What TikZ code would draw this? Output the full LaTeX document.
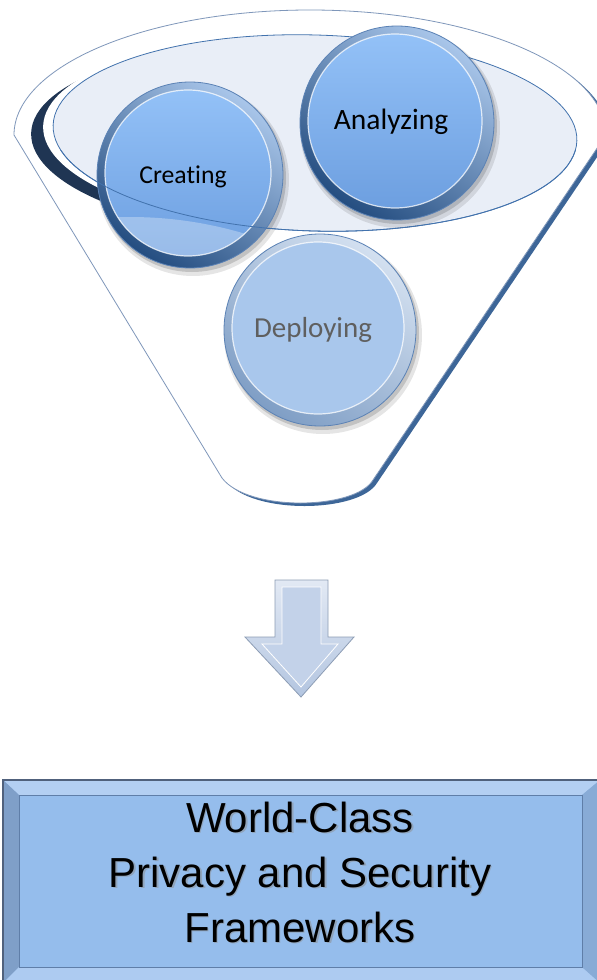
\documentclass[tikz,border=0pt]{standalone}
\usepackage{fontspec}
\setmainfont{Liberation Sans}
\newfontfamily\carlito[Ligatures=NoCommon]{Carlito}
\definecolor{funedge}{HTML}{7F97BA}
\definecolor{funshadow}{HTML}{3D6698}
\definecolor{rimdark}{HTML}{1F3553}
\definecolor{openfill}{HTML}{E9EEF7}
\definecolor{openline}{HTML}{4272AD}
\definecolor{ringtop}{HTML}{A9C6EA}
\definecolor{ringbot}{HTML}{244D80}
\definecolor{ringedge}{HTML}{5B82B5}
\definecolor{disctop}{HTML}{93C1F7}
\definecolor{discbot}{HTML}{6D9FE0}
\definecolor{paleringtop}{HTML}{D3E0F0}
\definecolor{paleringbot}{HTML}{7F9EC5}
\definecolor{paledisc}{HTML}{A9C7EC}
\definecolor{paletext}{HTML}{5F5F5F}
\definecolor{arrowtop}{HTML}{E2E9F4}
\definecolor{arrowbot}{HTML}{B3C5E0}
\definecolor{arrowface}{HTML}{C3D2E9}
\definecolor{arrowedge}{HTML}{8D9DB5}
\definecolor{boxfill}{HTML}{95BDEC}
\definecolor{boxedge}{HTML}{50617C}
\definecolor{boxlight}{HTML}{B3CFF2}
\definecolor{boxdark}{HTML}{7F9FC8}
\definecolor{boxinner}{HTML}{5F7EA8}
\tikzset{
  balltext/.style={font=\carlito, text=black, inner sep=0pt},
  boxtext/.style={align=center, inner sep=0pt, text=black},
}
% #1 name, #2 x, #3 y, #4 radius, #5 ring top, #6 ring bottom, #7 disc top, #8 disc bottom
\newcommand\drawglossball[8]{%
  \fill[black,opacity=.10] (#2+3,#3+5) circle[radius=#4+3];
  \fill[black,opacity=.15] (#2+2,#3+3) circle[radius=#4+1];
  \shade[top color=#5,bottom color=#6,shading angle=-35] (#2,#3) circle[radius=#4];
  \draw[ringedge,line width=.8] (#2,#3) circle[radius=#4];
  \shade[top color=#7,bottom color=#8] (#2-2,#3-2) circle[radius=#4-10];
  \draw[white,opacity=.75,line width=1.2] (#2-2,#3-2) circle[radius=#4-10];
  \coordinate (#1) at (#2,#3);
}
\begin{document}
\begin{tikzpicture}[x=1pt,y=-1pt]
\useasboundingbox (0,0) rectangle (597,980);
\fill[white] (0,0) rectangle (597,980);

% funnel body: shadow then body
\def\funnelpath{(222,478) -- (14,135) arc[start angle=180,end angle=360,x radius=296,y radius=125] -- (373,480) .. controls (355,510) and (248,512) .. (222,478) -- cycle}
\fill[funshadow] [shift={(4,3)}] \funnelpath;
\fill[white] \funnelpath;
\draw[funedge,line width=.8] \funnelpath;

% funnel opening
\begin{scope}
  \clip (0,0) rectangle (190,300);
  \fill[rimdark] (300,141) ellipse[x radius=269,y radius=97,rotate=-1.7];
\end{scope}
\fill[white] (309,134) ellipse[x radius=266,y radius=97,rotate=-1.7];
\fill[openfill] (315,133) ellipse[x radius=262,y radius=98,rotate=-1.7];
\draw[openline,line width=.8] (315,133) ellipse[x radius=262,y radius=98,rotate=-1.7];

% circles
\drawglossball{dep}{320}{330}{96}{paleringtop}{paleringbot}{paledisc}{paledisc}
\node[balltext,text=paletext,font=\carlito\fontsize{29}{34}\selectfont] (deplabel) at (313,330) {Deploying};

\drawglossball{ana}{397}{123}{97}{ringtop}{ringbot}{disctop}{discbot}
\node[balltext,font=\carlito\fontsize{29.5}{34}\selectfont] (analabel) at (391,122) {Analyzing};

\drawglossball{cre}{190}{175}{93}{ringtop}{ringbot}{disctop}{discbot}
\begin{scope}
  \clip (188,173) circle[radius=83];
  \fill[white,opacity=.3] (130,617) circle[radius=400];
\end{scope}
\node[balltext,font=\carlito\fontsize{25.7}{30}\selectfont] (crelabel) at (183,177) {Creating};

% front edge of the opening, over the circles
\begin{scope}
  \clip (0,150) rectangle (597,300);
  \draw[openline,line width=.8] (315,133) ellipse[x radius=262,y radius=98,rotate=-1.7];
\end{scope}

% arrow
\coordinate (arrowtip) at (301,697);
\shade[top color=arrowtop,bottom color=arrowbot,draw=arrowedge,line width=.8]
  (275,580) -- (328,580) -- (328,637) -- (354,637) -- (arrowtip) -- (245,637) -- (275,637) -- cycle;
\fill[arrowface,draw=white,line width=.8]
  (282,587) -- (321,587) -- (321,644) -- (338,644) -- (301,687) -- (262,644) -- (282,644) -- cycle;

% result box
\fill[boxfill] (3,780) rectangle (600,983);
\fill[boxlight] (3,780) -- (600,780) -- (582,795) -- (19,795) -- cycle;
\fill[boxdark] (3,780) -- (19,795) -- (19,967) -- (3,983) -- cycle;
\fill[boxlight!80!boxfill] (19,967) -- (582,967) -- (600,983) -- (3,983) -- cycle;
\fill[boxdark!60!boxfill] (582,795) -- (600,780) -- (600,983) -- (582,967) -- cycle;
\draw[boxinner,line width=.8] (19,795) rectangle (582,967);
\draw[boxedge,line width=2] (3,780) rectangle (600,983);
\node[boxtext,text=black!45,opacity=.5,font=\fontsize{42}{55}\selectfont] at (301.5,873.5) {World-Class\\Privacy and Security\\Frameworks};
\node[boxtext,font=\fontsize{42}{55}\selectfont] (result) at (300,872) {World-Class\\Privacy and Security\\Frameworks};
\end{tikzpicture}
\end{document}
